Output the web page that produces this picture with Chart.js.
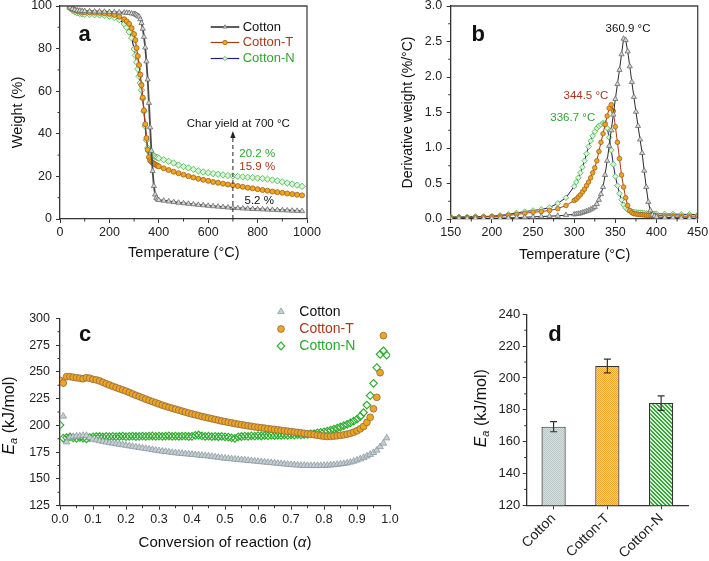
<!DOCTYPE html>
<html><head><meta charset="utf-8">
<script src="https://cdn.jsdelivr.net/npm/chart.js@4.4.1/dist/chart.umd.min.js"></script>
<style>
html,body{margin:0;padding:0;background:#fff;width:709px;height:561px;overflow:hidden;}
canvas{position:absolute;}
</style></head><body>
<canvas id="ca" width="355" height="270" style="left:0;top:0;width:355px;height:270px"></canvas>
<canvas id="cb" width="354" height="270" style="left:355px;top:0;width:354px;height:270px"></canvas>
<canvas id="cc" width="410" height="291" style="left:0;top:270px;width:410px;height:291px"></canvas>
<canvas id="cd" width="299" height="291" style="left:410px;top:270px;width:299px;height:291px"></canvas>
<script>
// ================= DATA =================
const seriesNames = ['Cotton','Cotton-T','Cotton-N'];

// (a) TGA: temperature (°C) and weight (%)
const tgaTemp = [40,50,60,70,80,90,100,120,140,160,180,200,220,240,260,270,280,290,
  300,305,310,315,320,325,330,335,340,345,350,355,360,365,370,375,380,385,390,395,400,
  420,440,460,480,500,520,540,560,580,600,620,640,660,680,700,720,740,760,780,800,820,840,860,880,900,920,940,960,980];
const tgaCotton = [99.3,98.6,98.2,97.9,97.8,97.7,97.6,97.5,97.4,97.4,97.3,97.2,97.1,97.0,96.9,96.8,96.7,96.5,
  96.3,96.1,95.8,95.4,95.0,93.8,92.0,89.3,85.5,80.5,74.0,65.5,54.5,43.0,32.0,22.5,15.5,11.5,9.9,9.2,8.9,
  8.6,8.25,7.95,7.65,7.4,7.15,6.9,6.65,6.45,6.2,6.0,5.8,5.6,5.4,5.2,5.1,4.95,4.85,4.7,4.6,4.5,4.4,4.3,4.2,4.1,4.0,3.9,3.8,3.7];
const tgaCottonT = [99.3,98.7,98.1,97.7,97.4,97.2,97.1,97.0,96.9,96.8,96.6,96.3,95.8,95.0,93.8,92.8,91.6,89.6,
  86.8,84.0,80.3,76.5,72.3,67.8,62.8,57.0,51.0,44.5,38.0,32.5,29.0,27.6,26.9,26.4,26.0,25.6,25.3,25.0,24.7,
  23.8,23.0,22.2,21.5,20.8,20.1,19.5,18.9,18.4,17.9,17.4,17.0,16.6,16.2,15.9,15.5,15.1,14.7,14.4,14.0,13.6,13.3,12.9,12.6,12.3,12.0,11.7,11.4,11.1];
const tgaCottonN = [99.0,98.0,97.3,96.8,96.5,96.3,96.1,96.0,95.9,95.8,95.6,95.2,94.6,93.6,91.6,90.0,87.8,85.0,
  79.8,76.8,73.6,70.4,67.0,63.8,60.5,56.5,50.5,43.5,37.0,33.3,31.8,30.9,30.3,29.9,29.6,29.3,29.0,28.8,28.5,
  27.8,27.1,26.3,25.3,24.6,24.0,23.3,22.6,22.1,21.7,21.3,21.0,20.7,20.4,20.2,20.0,19.8,19.6,19.4,19.2,19.0,18.7,18.3,17.9,17.4,16.9,16.4,15.9,15.3];
const charTemp = 700;
const charYieldLabels = ['5.2 %','15.9 %','20.2 %'];

// (b) DTG: temperature (°C) and derivative weight (%/°C)
const dtgTemp = [150,160,170,180,190,200,210,220,230,240,250,260,270,280,290,300,
  302.5,305,307.5,310,312.5,315,317.5,320,322.5,325,327.5,330,332.5,335,337.5,340,
  342.5,345,347.5,350,352.5,355,357.5,360,362.5,365,367.5,370,372.5,375,377.5,380,
  382.5,385,387.5,390,392.5,395,397.5,400,410,420,430,440,450];
const dtgCotton = [0.01,0.01,0.01,0.01,0.01,0.01,0.012,0.015,0.02,0.025,0.03,0.035,0.04,0.045,0.055,0.065,
  0.07,0.075,0.08,0.09,0.10,0.11,0.12,0.135,0.15,0.17,0.21,0.27,0.35,0.45,0.62,0.82,
  1.03,1.25,1.47,1.69,1.9,2.1,2.32,2.54,2.52,2.36,2.15,1.93,1.72,1.51,1.31,1.12,
  0.93,0.68,0.45,0.24,0.12,0.06,0.04,0.03,0.02,0.02,0.015,0.015,0.01];
const dtgCottonT = [0.02,0.02,0.02,0.025,0.03,0.035,0.04,0.05,0.065,0.08,0.095,0.105,0.12,0.145,0.19,0.26,
  0.28,0.31,0.34,0.38,0.42,0.47,0.52,0.58,0.65,0.72,0.82,0.95,1.08,1.2,1.33,1.45,
  1.56,1.61,1.52,1.3,1.08,0.85,0.62,0.45,0.3,0.19,0.12,0.09,0.075,0.07,0.065,0.06,
  0.06,0.055,0.055,0.05,0.05,0.05,0.05,0.05,0.045,0.045,0.04,0.04,0.04];
const dtgCottonN = [0.03,0.03,0.03,0.035,0.035,0.04,0.05,0.065,0.085,0.105,0.12,0.135,0.16,0.22,0.3,0.46,
  0.52,0.58,0.65,0.73,0.82,0.92,1.02,1.1,1.17,1.23,1.28,1.31,1.33,1.35,1.35,1.28,
  1.15,0.97,0.77,0.6,0.47,0.36,0.27,0.2,0.16,0.13,0.115,0.105,0.1,0.095,0.09,0.09,
  0.085,0.085,0.08,0.08,0.08,0.075,0.075,0.075,0.07,0.07,0.065,0.065,0.06];
const peakLabels = ['360.9 °C','344.5 °C','336.7 °C'];

// (c) Activation energy vs conversion
const alpha = [0.00,0.01,0.02,0.03,0.04,0.05,0.06,0.07,0.08,0.09,0.10,0.11,0.12,0.13,0.14,0.15,0.16,0.17,0.18,0.19,
  0.20,0.21,0.22,0.23,0.24,0.25,0.26,0.27,0.28,0.29,0.30,0.31,0.32,0.33,0.34,0.35,0.36,0.37,0.38,0.39,
  0.40,0.41,0.42,0.43,0.44,0.45,0.46,0.47,0.48,0.49,0.50,0.51,0.52,0.53,0.54,0.55,0.56,0.57,0.58,0.59,
  0.60,0.61,0.62,0.63,0.64,0.65,0.66,0.67,0.68,0.69,0.70,0.71,0.72,0.73,0.74,0.75,0.76,0.77,0.78,0.79,
  0.80,0.81,0.82,0.83,0.84,0.85,0.86,0.87,0.88,0.89,0.90,0.91,0.92,0.93,0.94,0.95,0.96,0.97,0.98,0.99];
const eaCotton = [null,208.5,184.5,188.5,189.5,190.0,190.0,190.5,190.5,188.5,187.0,
  186.3,185.6,185.0,184.4,183.8,183.3,182.8,182.3,181.8,181.3,
  180.8,180.3,179.8,179.3,178.8,178.3,177.8,177.3,176.8,176.3,
  175.9,175.5,175.1,174.7,174.3,174.0,173.7,173.4,173.1,172.8,
  172.5,172.2,171.9,171.6,171.3,170.9,170.5,170.1,169.7,169.3,
  169.0,168.7,168.4,168.1,167.8,167.5,167.2,166.9,166.6,166.3,
  166.0,165.7,165.4,165.1,164.8,164.5,164.2,163.9,163.6,163.3,
  163.1,162.9,162.7,162.6,162.5,162.4,162.4,162.4,162.4,162.5,
  162.7,162.9,163.2,163.5,163.9,164.3,164.9,165.6,166.5,167.5,
  168.7,170.0,171.3,172.8,174.6,176.8,180.0,183.2,188.2];
const eaCottonT = [242.0,239.5,245.5,245.5,245.0,244.5,244.0,243.5,244.5,244.0,243.0,
  242.5,241.5,240.2,238.9,237.7,236.5,235.3,234.2,233.1,232.0,
  230.7,229.4,228.1,226.9,225.7,224.5,223.3,222.2,221.1,220.0,
  218.9,217.9,216.9,216.0,215.1,214.2,213.3,212.4,211.5,210.7,
  209.9,209.1,208.3,207.6,206.9,206.2,205.5,204.8,204.1,203.5,
  202.9,202.3,201.7,201.1,200.6,200.1,199.6,199.1,198.6,198.2,
  197.8,197.4,197.0,196.6,196.2,195.8,195.4,195.0,194.6,194.2,
  193.8,193.4,193.0,192.6,192.2,191.8,191.3,190.8,190.3,189.9,
  189.7,189.8,190.0,190.3,190.7,191.2,191.8,192.6,193.6,195.0,
  196.8,199.0,202.8,207.5,215.5,226.2,249.2,283.8,null];
const eaCottonN = [200.3,188.0,188.6,189.2,188.4,187.9,188.6,188.1,187.4,188.7,189.2,
  189.4,189.6,189.3,189.7,189.5,189.8,189.4,189.6,189.9,189.5,
  189.7,189.9,189.6,189.8,190.0,189.7,189.9,190.1,189.8,190.0,
  189.7,189.9,190.1,189.8,190.0,189.7,189.9,190.0,189.6,189.8,
  190.6,191.0,190.2,189.7,189.9,189.5,189.8,189.4,189.7,189.3,
  189.0,188.4,187.8,189.2,189.6,190.0,189.7,190.2,190.0,190.4,
  190.1,190.5,190.3,190.7,190.4,190.8,190.6,191.0,190.7,191.1,
  190.9,191.3,191.1,191.5,191.6,192.0,192.4,192.9,193.4,194.0,
  194.7,195.5,196.4,197.4,198.5,199.7,201.0,202.4,204.0,205.9,
  208.3,212.0,219.0,227.8,239.3,254.0,266.4,269.5,265.7];

// (d) Mean activation energy
const eaLabels = ['Cotton','Cotton-T','Cotton-N'];
const eaMean = [169.4, 207.5, 184.2];
const eaErr = [3.2, 4.3, 4.6];

// ================= STYLE =================
const FF = "'Liberation Sans', Arial, Helvetica, sans-serif";
Chart.defaults.font.family = FF;
Chart.defaults.color = '#222';
const textColors = ['#111111','#a8381a','#2ea62e'];
const lineStyle = [
  {line:'#4a4a4a', lw:1.8, pt:'triangle', fill:'#d5d8da', edge:'#6a6a6a'},
  {line:'#a83a1c', lw:1.2, pt:'circle',   fill:'#f2a61e', edge:'#a0601c'},
  {line:'#22226e', lw:1.2, pt:'rectRot',  fill:'#dcf3dc', edge:'#43b843'}
];

function pts(xs, ys){ const out=[]; for(let i=0;i<xs.length;i++){ if(ys[i]!==null && ys[i]!==undefined) out.push({x:xs[i], y:ys[i]}); } return out; }
function zeroPad(s){ s.paddingLeft=0; s.paddingRight=0; s.paddingTop=0; s.paddingBottom=0; }
function linAxis(pos,min,max,step,size,fontSize,pad,fmt){
  return {
    type:'linear', position:pos, min:min, max:max,
    grid:{display:true, drawOnChartArea:false, drawTicks:true, tickLength:4, color:'#333', lineWidth:1},
    border:{display:true, color:'#333', width:1.3},
    ticks:{stepSize:step, color:'#222', font:{size:fontSize, family:FF}, padding:pad, maxRotation:0, minRotation:0, autoSkip:false, callback:fmt},
    afterFit(s){ if(pos==='bottom') s.height=size; else s.width=size; zeroPad(s); }
  };
}
function txt(ctx,s,x,y,font,color,align){ ctx.save(); ctx.font=font; ctx.fillStyle=color; ctx.textAlign=align||'left'; ctx.textBaseline='middle'; ctx.fillText(s,x,y); ctx.restore(); }
function rich(ctx,segs,cx,cy,rot){
  ctx.save(); ctx.translate(cx,cy); ctx.rotate(rot||0);
  let w=0; segs.forEach(s=>{ctx.font=s.f; w+=ctx.measureText(s.t).width;});
  let x=-w/2; ctx.textBaseline='middle'; ctx.textAlign='left';
  segs.forEach(s=>{ctx.font=s.f; ctx.fillStyle=s.c||'#111'; ctx.fillText(s.t,x,s.dy||0); x+=ctx.measureText(s.t).width;});
  ctx.restore();
}
function drawMarker(ctx,style,x,y,r,fill,stroke,lw){
  ctx.save(); ctx.fillStyle=fill; ctx.strokeStyle=stroke; ctx.lineWidth=lw; ctx.beginPath();
  if(style==='triangle'){ ctx.moveTo(x,y-r); ctx.lineTo(x+r*0.866,y+r*0.5); ctx.lineTo(x-r*0.866,y+r*0.5); ctx.closePath(); }
  else if(style==='circle'){ ctx.arc(x,y,r,0,Math.PI*2); }
  else { ctx.moveTo(x,y-r); ctx.lineTo(x+r,y); ctx.lineTo(x,y+r); ctx.lineTo(x-r,y); ctx.closePath(); }
  ctx.fill(); ctx.stroke(); ctx.restore();
}
const minorPlugin = { id:'minor', afterDraw(chart,args,opts){
  const ctx=chart.ctx; ctx.save(); ctx.strokeStyle='#333'; ctx.lineWidth=1;
  (opts.list||[]).forEach(m=>{
    const s=chart.scales[m.id]; const n=Math.round((s.max-s.min)/m.step);
    for(let i=1;i<n;i++){
      const v=s.min+i*m.step; const q=(v-s.min)/m.major;
      if(Math.abs(q-Math.round(q))<1e-6) continue;
      const p=s.getPixelForValue(v); ctx.beginPath();
      if(s.isHorizontal()){ ctx.moveTo(p,s.top); ctx.lineTo(p,s.top+m.len); }
      else { ctx.moveTo(s.right,p); ctx.lineTo(s.right-m.len,p); }
      ctx.stroke();
    }
  });
  ctx.restore();
}};
const framePlugin = { id:'frame', afterDraw(chart){
  const {ctx, chartArea:a} = chart; ctx.save(); ctx.strokeStyle='#444'; ctx.lineWidth=1.3;
  ctx.beginPath(); ctx.moveTo(a.left,a.top); ctx.lineTo(a.right,a.top); ctx.lineTo(a.right,a.bottom); ctx.stroke(); ctx.restore();
}};
function lineDs(i,xs,ys,r){
  const st=lineStyle[i];
  return {label:seriesNames[i], data:pts(xs,ys), borderColor:st.line, borderWidth:st.lw, pointStyle:st.pt, pointRadius:r,
    pointBackgroundColor:st.fill, pointBorderColor:st.edge, pointBorderWidth:0.8, tension:0, fill:false};
}
const baseOpts = (pad)=>({responsive:false, animation:false, devicePixelRatio:1, events:[],
  layout:{autoPadding:false, padding:pad}});

// ================= (a) =================
const tgaSeries=[tgaCotton,tgaCottonT,tgaCottonN];
new Chart(document.getElementById('ca'), {
  type:'line',
  data:{datasets:[0,1,2].map(i=>lineDs(i,tgaTemp,tgaSeries[i],[3.0,2.5,3.2][i]))},
  options:Object.assign(baseOpts({left:0,top:6,right:48,bottom:0}),{
    plugins:{legend:{display:false}, tooltip:{enabled:false},
      minor:{list:[{id:'x',step:100,major:200,len:2.5},{id:'y',step:10,major:20,len:2.5}]}},
    scales:{x:linAxis('bottom',0,1000,200,51,12.5,2,v=>String(v)), y:linAxis('left',0,100,20,60,12.5,4,v=>String(v))}
  }),
  plugins:[minorPlugin,framePlugin,{id:'decorA',afterDraw(chart){
    const ctx=chart.ctx, xs=chart.scales.x, ys=chart.scales.y;
    txt(ctx,'a',84.7,35,'bold 22px '+FF,'#111','center');
    const rows=[27,42.5,58.5];
    for(let i=0;i<3;i++){
      const st=lineStyle[i];
      ctx.save(); ctx.strokeStyle=st.line; ctx.lineWidth=st.lw; ctx.beginPath(); ctx.moveTo(210.7,rows[i]); ctx.lineTo(239.3,rows[i]); ctx.stroke(); ctx.restore();
      drawMarker(ctx,st.pt==='rectRot'?'diamond':st.pt,225,rows[i],2.2,st.fill,st.edge,0.8);
      txt(ctx,seriesNames[i],242.7,rows[i],'13px '+FF,textColors[i],'left');
    }
    const ax=xs.getPixelForValue(charTemp), y0=ys.getPixelForValue(0), yTip=ys.getPixelForValue(41.3);
    ctx.save(); ctx.strokeStyle='#222'; ctx.lineWidth=1; ctx.setLineDash([4,3]);
    ctx.beginPath(); ctx.moveTo(ax,y0); ctx.lineTo(ax,yTip+6); ctx.stroke(); ctx.setLineDash([]);
    ctx.fillStyle='#222'; ctx.beginPath(); ctx.moveTo(ax,yTip); ctx.lineTo(ax+2.6,yTip+7); ctx.lineTo(ax-2.6,yTip+7); ctx.closePath(); ctx.fill(); ctx.restore();
    txt(ctx,'Char yield at 700 °C',xs.getPixelForValue(722),ys.getPixelForValue(44.8),'11.5px '+FF,'#111','center');
    txt(ctx,charYieldLabels[2],xs.getPixelForValue(726),ys.getPixelForValue(30.7),'11.5px '+FF,textColors[2],'left');
    txt(ctx,charYieldLabels[1],xs.getPixelForValue(726),ys.getPixelForValue(24.5),'11.5px '+FF,textColors[1],'left');
    txt(ctx,charYieldLabels[0],xs.getPixelForValue(866),ys.getPixelForValue(8.6),'11.5px '+FF,textColors[0],'right');
    rich(ctx,[{t:'Weight (%)',f:'14.5px '+FF}],18.3,112.5,-Math.PI/2);
    rich(ctx,[{t:'Temperature (°C)',f:'14.5px '+FF}],183.8,253.3,0);
  }}]
});

// ================= (b) =================
const dtgSeries=[dtgCotton,dtgCottonT,dtgCottonN];
new Chart(document.getElementById('cb'), {
  type:'line',
  data:{datasets:[0,1,2].map(i=>{const d=lineDs(i,dtgTemp,dtgSeries[i],[3.0,2.3,2.8][i]); d.borderWidth=1; if(i===0) d.borderColor='#2a2a2a'; return d;})},
  options:Object.assign(baseOpts({left:0,top:6,right:11.3,bottom:0}),{
    plugins:{legend:{display:false}, tooltip:{enabled:false},
      minor:{list:[{id:'x',step:25,major:50,len:2.5},{id:'y',step:0.25,major:0.5,len:2.5}]}},
    scales:{x:linAxis('bottom',150,450,50,51,12.5,2,v=>String(v)), y:linAxis('left',0,3,0.5,95.7,12.5,4.5,v=>Number(v).toFixed(1))}
  }),
  plugins:[minorPlugin,framePlugin,{id:'decorB',afterDraw(chart){
    const ctx=chart.ctx, xs=chart.scales.x, ys=chart.scales.y;
    txt(ctx,'b',123.3,35,'bold 22px '+FF,'#111','center');
    txt(ctx,peakLabels[0],xs.getPixelForValue(365.4),ys.getPixelForValue(2.68),'11.5px '+FF,textColors[0],'center');
    txt(ctx,peakLabels[1],xs.getPixelForValue(341.5),ys.getPixelForValue(1.74),'11.5px '+FF,textColors[1],'right');
    txt(ctx,peakLabels[2],xs.getPixelForValue(325.5),ys.getPixelForValue(1.42),'11.5px '+FF,textColors[2],'right');
    rich(ctx,[{t:'Derivative weight (%/°C)',f:'14px '+FF}],53.3,112.5,-Math.PI/2);
    rich(ctx,[{t:'Temperature (°C)',f:'14.5px '+FF}],219.7,255,0);
  }}]
});

// ================= (c) =================
const cStyle=[
  {pt:'triangle',r:3.8,fill:'#c5ced3',edge:'#8a9aa0',lw:0.8},
  {pt:'circle',r:3.4,fill:'#f0a51c',edge:'#8a6a50',lw:0.8},
  {pt:'rectRot',r:3.8,fill:'rgba(255,255,255,0)',edge:'#2fae2f',lw:1.2}
];
const eaSeries=[eaCotton,eaCottonT,eaCottonN];
new Chart(document.getElementById('cc'), {
  type:'scatter',
  data:{datasets:[0,1,2].map(i=>({label:seriesNames[i], data:pts(alpha,eaSeries[i]), showLine:false,
    pointStyle:cStyle[i].pt, pointRadius:cStyle[i].r, pointBackgroundColor:cStyle[i].fill, pointBorderColor:cStyle[i].edge, pointBorderWidth:cStyle[i].lw}))},
  options:Object.assign(baseOpts({left:0,top:48.3,right:20,bottom:0}),{
    plugins:{legend:{display:false}, tooltip:{enabled:false},
      minor:{list:[{id:'x',step:0.05,major:0.1,len:2.5},{id:'y',step:12.5,major:25,len:2.5}]}},
    scales:{x:linAxis('bottom',0,1,0.1,55.3,12.5,2.4,v=>Number(v).toFixed(1)), y:linAxis('left',125,300,25,60,12.5,6,v=>String(v))}
  }),
  plugins:[minorPlugin,{id:'decorC',afterDraw(chart){
    const ctx=chart.ctx;
    txt(ctx,'c',85,65,'bold 22px '+FF,'#111','center');
    const rows=[41.7,59,76];
    for(let i=0;i<3;i++){
      const st=cStyle[i];
      drawMarker(ctx,st.pt==='rectRot'?'diamond':st.pt,281,rows[i],st.r,st.fill,st.edge,st.lw);
      txt(ctx,seriesNames[i],299.3,rows[i],'14px '+FF,textColors[i],'left');
    }
    rich(ctx,[{t:'E',f:'italic 16px '+FF},{t:'a',f:'italic 11px '+FF,dy:4},{t:' (kJ/mol)',f:'16px '+FF}],10,145.5,-Math.PI/2);
    rich(ctx,[{t:'Conversion of reaction (',f:'15px '+FF},{t:'α',f:'italic 15px '+FF},{t:')',f:'15px '+FF}],225,273.3,0);
  }}]
});

// ================= (d) =================
function makePattern(target,size,draw){
  const t=document.createElement('canvas'); t.width=size; t.height=size; const g=t.getContext('2d'); draw(g);
  return target.getContext('2d').createPattern(t,'repeat');
}
const cdEl=document.getElementById('cd');
const patCotton=makePattern(cdEl,2,g=>{g.fillStyle='#d6e0df';g.fillRect(0,0,2,2);g.fillStyle='#b9c8c7';g.fillRect(0,0,1,1);g.fillRect(1,1,1,1);});
const patCottonT=makePattern(cdEl,2,g=>{g.fillStyle='#fbd47e';g.fillRect(0,0,2,2);g.fillStyle='#eea52a';g.fillRect(0,0,1,1);g.fillRect(1,1,1,1);});
const patCottonN=makePattern(cdEl,4,g=>{g.fillStyle='#d9f0d9';g.fillRect(0,0,4,4);g.fillStyle='#3aa53a';for(let i=0;i<4;i++){g.fillRect(i,i,1,1);g.fillRect((i+1)%4,i,1,1);}});
new Chart(cdEl, {
  type:'bar',
  data:{labels:eaLabels, datasets:[{data:eaMean, backgroundColor:[patCotton,patCottonT,patCottonN], borderColor:'#333', borderWidth:1.2, barPercentage:0.45, categoryPercentage:1}]},
  options:Object.assign(baseOpts({left:0,top:44.3,right:21,bottom:0}),{
    plugins:{legend:{display:false}, tooltip:{enabled:false},
      minor:{list:[{id:'y',step:10,major:20,len:2.5}]}},
    scales:{
      x:{type:'category', offset:true,
        grid:{display:true, offset:false, drawOnChartArea:false, drawTicks:true, tickLength:4, color:'#333'},
        border:{display:true, color:'#333', width:1.3},
        ticks:{color:'#222', font:{size:14,family:FF}, minRotation:45, maxRotation:45, padding:1, autoSkip:false},
        afterFit(s){ s.height=55.7; zeroPad(s); }},
      y:linAxis('left',120,240,20,116.7,13,2.5,v=>String(v))
    }
  }),
  plugins:[minorPlugin,{id:'errD',afterDatasetsDraw(chart){
    const meta=chart.getDatasetMeta(0), ys=chart.scales.y, ctx=chart.ctx;
    ctx.save(); ctx.strokeStyle='#333'; ctx.lineWidth=1.2;
    meta.data.forEach((bar,i)=>{
      const x=bar.x, yt=ys.getPixelForValue(eaMean[i]+eaErr[i]), yb=ys.getPixelForValue(eaMean[i]-eaErr[i]);
      ctx.beginPath(); ctx.moveTo(x,yt); ctx.lineTo(x,yb);
      ctx.moveTo(x-3.5,yt); ctx.lineTo(x+3.5,yt); ctx.moveTo(x-3.5,yb); ctx.lineTo(x+3.5,yb); ctx.stroke();
    });
    ctx.restore();
  }},{id:'decorD',afterDraw(chart){
    const ctx=chart.ctx;
    txt(ctx,'d',145,65,'bold 22px '+FF,'#111','center');
    rich(ctx,[{t:'E',f:'italic 16px '+FF},{t:'a',f:'italic 11px '+FF,dy:4},{t:' (kJ/mol)',f:'16px '+FF}],71.7,138.3,-Math.PI/2);
  }}]
});
</script>
</body></html>
